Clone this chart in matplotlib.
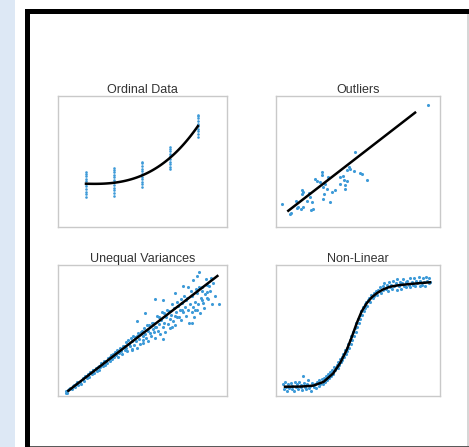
import numpy as np
import matplotlib
matplotlib.use("Agg")
import matplotlib.pyplot as plt
from matplotlib.patches import Rectangle

# ---------------- data ----------------
titles = ["Ordinal Data", "Outliers", "Unequal Variances", "Non-Linear"]

# Ordinal data: five ordered levels, stacked responses per level
ordinal_levels = [1, 2, 3, 4, 5]
ordinal_values = [
    [2.3, 2.5, 2.7, 2.9, 3.1, 3.3, 3.5, 3.7, 3.9, 4.05, 4.2],
    [2.4, 2.6, 2.8, 3.0, 3.2, 3.4, 3.6, 3.8, 4.0, 4.2, 4.35, 4.5],
    [3.05, 3.25, 3.45, 3.65, 3.85, 4.05, 4.25, 4.45, 4.65, 4.85, 5.0],
    [4.4, 4.6, 4.8, 5.0, 5.2, 5.4, 5.6, 5.8, 5.95, 6.1],
    [6.9, 7.1, 7.3, 7.5, 7.7, 7.9, 8.1, 8.3, 8.45, 8.55],
]
ordinal_trend = [3.3, 3.4, 3.9, 5.3, 7.7]

# Outliers
outlier_x = [9.25, 0.35, 0.90, 4.82, 2.82, 2.82, 2.38, 2.48, 2.68, 2.99, 3.19, 2.88,
             3.09, 2.93, 3.29, 3.60, 3.90, 4.07, 4.15, 3.90, 4.21, 4.35, 4.43, 4.51,
             4.31, 4.76, 5.12, 5.23, 5.57, 4.21, 3.40, 1.57, 1.66, 1.59, 2.03, 2.07,
             1.91, 2.18, 1.22, 1.36, 1.30, 1.66, 1.51, 2.13, 2.24, 0.85, 2.88]
outlier_y = [9.31, 1.78, 1.05, 5.75, 4.22, 3.97, 3.64, 3.53, 3.46, 3.28, 3.79, 3.08,
             2.88, 2.52, 1.93, 2.82, 3.79, 3.89, 3.59, 3.28, 3.21, 3.53, 4.56, 4.45,
             4.35, 4.30, 4.15, 4.05, 3.59, 2.88, 2.69, 2.82, 2.69, 2.52, 2.57, 2.27,
             1.98, 1.89, 2.01, 1.55, 1.43, 1.50, 1.35, 1.30, 1.35, 0.99, 2.11]
outlier_fit_x = [0.75, 8.48]
outlier_fit_y = [1.24, 8.73]

# Unequal variances
uv_x = [0.45, 0.5, 0.55, 0.6, 0.7, 0.8, 0.9, 1.0, 1.05, 1.2, 1.3, 1.35, 1.5, 1.55,
        1.6, 1.7, 1.8, 1.85, 1.9, 2.0, 2.1, 2.15, 2.25, 2.3, 2.4, 2.45, 2.5, 2.6,
        2.65, 2.7, 2.8, 2.85, 2.9, 3.0, 3.05, 3.1, 3.2, 3.25, 3.3, 3.4, 3.45, 3.5,
        3.55, 3.6, 3.7, 3.75, 3.8, 3.9, 3.95, 4.0, 4.05, 4.1, 4.2, 4.25, 4.3, 4.35,
        4.4, 4.5, 4.55, 4.6, 4.65, 4.7, 4.8, 4.85, 4.9, 5.0, 5.05, 5.1, 5.15, 5.2,
        5.3, 5.35, 5.4, 5.45, 5.5, 5.6, 5.65, 5.7, 5.75, 5.8, 5.9, 5.95, 6.0, 6.05,
        6.1, 6.2, 6.25, 6.3, 6.35, 6.4, 6.5, 6.55, 6.6, 6.65, 6.7, 6.8, 6.85, 6.9,
        6.95, 7.0, 7.1, 7.15, 7.2, 7.3, 7.35, 7.4, 7.5, 7.55, 7.6, 7.7, 7.75, 7.8,
        7.9, 7.95, 8.0, 8.05, 8.1, 8.2, 8.25, 8.3, 8.4, 8.45, 8.5, 8.6, 8.65, 8.7,
        8.8, 8.9, 9.0, 9.1, 9.2, 9.3, 9.5,
        8.34, 8.21, 8.01, 8.80, 7.95, 7.41, 7.71, 6.92, 5.74, 6.23, 5.15, 4.66,
        6.23, 6.73, 8.11, 8.50, 8.80, 7.02, 7.32, 5.74, 5.05, 4.36,
        0.65, 0.95, 1.15, 1.45, 1.75, 2.05, 2.35, 2.55, 2.75, 2.95, 3.15, 3.35,
        3.65, 3.85, 4.15, 4.45, 4.75, 4.95, 5.25, 5.55, 5.85, 6.15, 6.45, 6.75,
        7.05, 7.25, 7.45, 7.65, 7.85, 8.15, 8.35, 8.55, 8.75, 8.95, 9.05]
uv_y = [0.2, 0.35, 0.25, 0.45, 0.6, 0.5, 0.75, 0.7, 0.9, 0.85, 1.1, 0.95, 1.3, 1.15,
        1.5, 1.35, 1.6, 1.45, 1.8, 1.7, 1.95, 1.75, 2.1, 1.9, 2.3, 2.0, 2.2, 2.45,
        2.3, 2.6, 2.4, 2.7, 2.55, 2.9, 2.65, 3.0, 2.85, 3.2, 2.95, 3.35, 3.1, 3.5,
        3.0, 3.3, 3.6, 3.45, 3.2, 3.8, 3.5, 4.1, 3.7, 3.4, 4.0, 3.8, 4.4, 3.55,
        4.2, 3.9, 4.5, 4.2, 3.7, 4.6, 4.35, 4.0, 4.9, 4.6, 4.25, 5.2, 4.7, 4.4,
        5.0, 4.2, 5.4, 4.8, 4.55, 5.1, 5.6, 4.9, 4.4, 5.3, 5.0, 6.0, 5.5, 4.7,
        5.8, 5.3, 6.3, 5.6, 4.9, 6.0, 5.5, 6.5, 5.9, 5.2, 6.2, 5.7, 6.7, 6.1,
        5.4, 6.4, 6.9, 6.0, 6.6, 5.8, 7.1, 6.4, 6.8, 6.1, 7.3, 6.6, 5.6, 7.0,
        6.4, 7.6, 6.8, 6.0, 7.2, 6.6, 7.9, 7.0, 6.3, 7.5, 8.3, 7.1, 6.7, 7.8,
        8.5, 7.4, 8.0, 7.0, 8.6, 7.6, 7.0,
        9.49, 9.16, 8.85, 7.50, 5.55, 8.40, 8.35, 7.84, 7.38, 7.33, 6.31, 5.73,
        4.35, 5.29, 6.56, 7.33, 7.96, 6.05, 6.56, 5.29, 4.02, 3.51,
        0.55, 0.85, 1.05, 1.4, 1.65, 1.95, 2.25, 2.5, 2.7, 2.9, 3.1, 3.3,
        3.65, 3.85, 4.25, 4.55, 4.8, 5.0, 5.4, 5.6, 6.1, 6.4, 6.6, 7.0,
        7.2, 7.4, 7.6, 7.5, 8.0, 8.2, 8.3, 8.0, 8.9, 8.4, 9.0]
uv_fit_x = [0.61, 9.43]
uv_fit_y = [0.40, 9.16]

# Non-linear (sigmoid-shaped) relationship
nl_x = [0.45, 0.5, 0.55, 0.6, 0.7, 0.75, 0.8, 0.9, 0.95, 1.0, 1.1, 1.15, 1.2, 1.3,
        1.35, 1.4, 1.5, 1.55, 1.6, 1.65, 1.7, 1.75, 1.8, 1.9, 1.95, 2.0, 2.1, 2.15,
        2.2, 2.3, 2.35, 2.45, 2.5, 2.6, 2.65, 2.7, 2.8, 2.85, 2.9, 3.0, 3.05, 3.1,
        3.2, 3.25, 3.3, 3.35, 3.4, 3.45, 3.5, 3.55, 3.6, 3.7, 3.75, 3.8, 3.85, 3.9,
        3.95, 4.0, 4.05, 4.1, 4.15, 4.2, 4.25, 4.3, 4.35, 4.4, 4.45, 4.5, 4.55, 4.6,
        4.65, 4.7, 4.75, 4.8, 4.85, 4.9, 4.95, 5.0, 5.05, 5.1, 5.15, 5.2, 5.25, 5.3,
        5.35, 5.4, 5.45, 5.5, 5.55, 5.6, 5.7, 5.75, 5.8, 5.9, 5.95, 6.0, 6.1, 6.15,
        6.2, 6.3, 6.35, 6.4, 6.5, 6.55, 6.6, 6.7, 6.75, 6.8, 6.9, 6.95, 7.0, 7.1,
        7.15, 7.2, 7.3, 7.35, 7.4, 7.5, 7.55, 7.6, 7.7, 7.75, 7.8, 7.9, 7.95, 8.0,
        8.1, 8.15, 8.2, 8.3, 8.35, 8.4, 8.5, 8.55, 8.6, 8.7, 8.75, 8.8, 8.9, 8.95,
        9.0, 9.1, 9.15, 9.2, 9.3, 9.35, 9.4]
nl_y = [0.9, 0.5, 1.1, 0.7, 0.4, 0.95, 0.6, 1.0, 0.55, 0.8, 0.35, 1.05, 0.7, 0.9,
        0.5, 1.1, 0.65, 0.85, 0.45, 1.55, 1.0, 0.7, 0.55, 0.9, 1.2, 0.6, 0.8, 0.4,
        1.0, 0.7, 0.9, 0.6, 1.1, 0.8, 1.2, 0.9, 1.3, 0.95, 1.4, 1.1, 1.5, 1.25,
        1.7, 1.4, 1.8, 1.5, 2.0, 1.7, 1.9, 2.2, 1.95, 2.4, 2.1, 2.6, 2.35, 2.8,
        2.6, 3.0, 2.75, 3.2, 3.0, 3.5, 3.2, 3.7, 3.4, 4.0, 3.7, 4.3, 4.0, 4.6,
        4.3, 4.9, 4.6, 5.2, 4.9, 5.6, 5.3, 5.9, 5.6, 6.2, 5.9, 6.5, 6.2, 6.8,
        6.5, 7.0, 6.7, 7.2, 6.9, 7.3, 7.5, 7.2, 7.7, 7.5, 7.9, 7.6, 8.0, 7.7,
        8.1, 8.0, 8.3, 7.9, 8.4, 8.1, 8.6, 8.2, 8.5, 8.0, 8.7, 8.3, 8.5, 8.2,
        8.8, 8.4, 8.6, 8.1, 8.9, 8.4, 8.7, 8.2, 8.6, 8.9, 8.4, 8.7, 8.3, 8.8,
        8.5, 9.0, 8.3, 8.7, 8.5, 9.0, 8.4, 8.8, 8.6, 9.1, 8.4, 8.8, 8.5, 9.0,
        8.7, 8.4, 9.1, 8.8, 8.6, 9.0, 8.7]
nl_curve_x = [0.55, 1.5, 2.27, 2.9, 3.49, 3.9, 4.31, 4.62, 4.92, 5.22, 5.53, 5.85,
              6.14, 6.5, 6.95, 7.5, 8.17, 8.8, 9.39]
nl_curve_y = [0.71, 0.72, 0.79, 1.08, 1.73, 2.5, 3.51, 4.5, 5.55, 6.45, 7.08, 7.55,
              7.84, 8.12, 8.34, 8.46, 8.55, 8.62, 8.68]

# ---------------- styling ----------------
DOT = "#3d9ad8"
SPINE = "#c9c9c9"
DOT_SIZE = 5
LINE_W = 1.8
fig = plt.figure(figsize=(4.69, 4.47), dpi=100)
fig.patch.set_facecolor("white")

W, H = 469.0, 447.0


def px_rect(x0, y0, x1, y1, color):
    fig.add_artist(Rectangle((x0 / W, 1 - y1 / H), (x1 - x0) / W, (y1 - y0) / H,
                             transform=fig.transFigure, facecolor=color,
                             edgecolor="none", zorder=0))


# page strip and frame
px_rect(0, 0, 15, 447, "#dde8f5")
px_rect(25, 9, 469, 13.5, "black")
px_rect(25, 9, 29.5, 447, "black")
px_rect(467, 13.5, 468.5, 447, "#d6d6d6")
px_rect(29.5, 445.5, 469, 447, "#5a5a5a")


def add_panel(left, top, width, height):
    ax = fig.add_axes([left / W, 1 - (top + height) / H, width / W, height / H])
    for s in ax.spines.values():
        s.set_color(SPINE)
        s.set_linewidth(1.0)
    ax.set_xticks([])
    ax.set_yticks([])
    return ax


def style_title(ax, text):
    ax.set_title(text, fontsize=9, family="Liberation Sans", color="#333333", pad=2.5)


panels = [(58, 96, 169, 131), (276, 96, 164, 131),
          (58, 265, 169, 131), (276, 265, 164, 131)]
axes = [add_panel(*p) for p in panels]

# Ordinal data
ax = axes[0]
for lvl, vals in zip(ordinal_levels, ordinal_values):
    ax.scatter([lvl] * len(vals), vals, s=3.5, color=DOT, linewidths=0, zorder=2)
coef = np.polyfit(ordinal_levels, ordinal_trend, 3)
xs = np.linspace(ordinal_levels[0], ordinal_levels[-1], 100)
ax.plot(xs, np.polyval(coef, xs), color="black", lw=LINE_W, zorder=3)
ax.set_xlim(0, 6.04)
ax.set_ylim(0, 10)

# Outliers
ax = axes[1]
ax.scatter(outlier_x, outlier_y, s=DOT_SIZE, color=DOT, linewidths=0, zorder=2)
ax.plot(outlier_fit_x, outlier_fit_y, color="black", lw=LINE_W, zorder=3)
ax.set_xlim(0, 10)
ax.set_ylim(0, 10)

# Unequal variances
ax = axes[2]
ax.scatter(uv_x, uv_y, s=DOT_SIZE, color=DOT, linewidths=0, zorder=2)
ax.plot(uv_fit_x, uv_fit_y, color="black", lw=LINE_W, zorder=3)
ax.set_xlim(0, 10)
ax.set_ylim(0, 10)

# Non-linear
ax = axes[3]
ax.scatter(nl_x, nl_y, s=DOT_SIZE, color=DOT, linewidths=0, zorder=2)
ax.plot(nl_curve_x, nl_curve_y, color="black", lw=LINE_W, zorder=3)
ax.set_xlim(0, 10)
ax.set_ylim(0, 10)

for ax, t in zip(axes, titles):
    style_title(ax, t)

fig.savefig("out.png", dpi=100)
